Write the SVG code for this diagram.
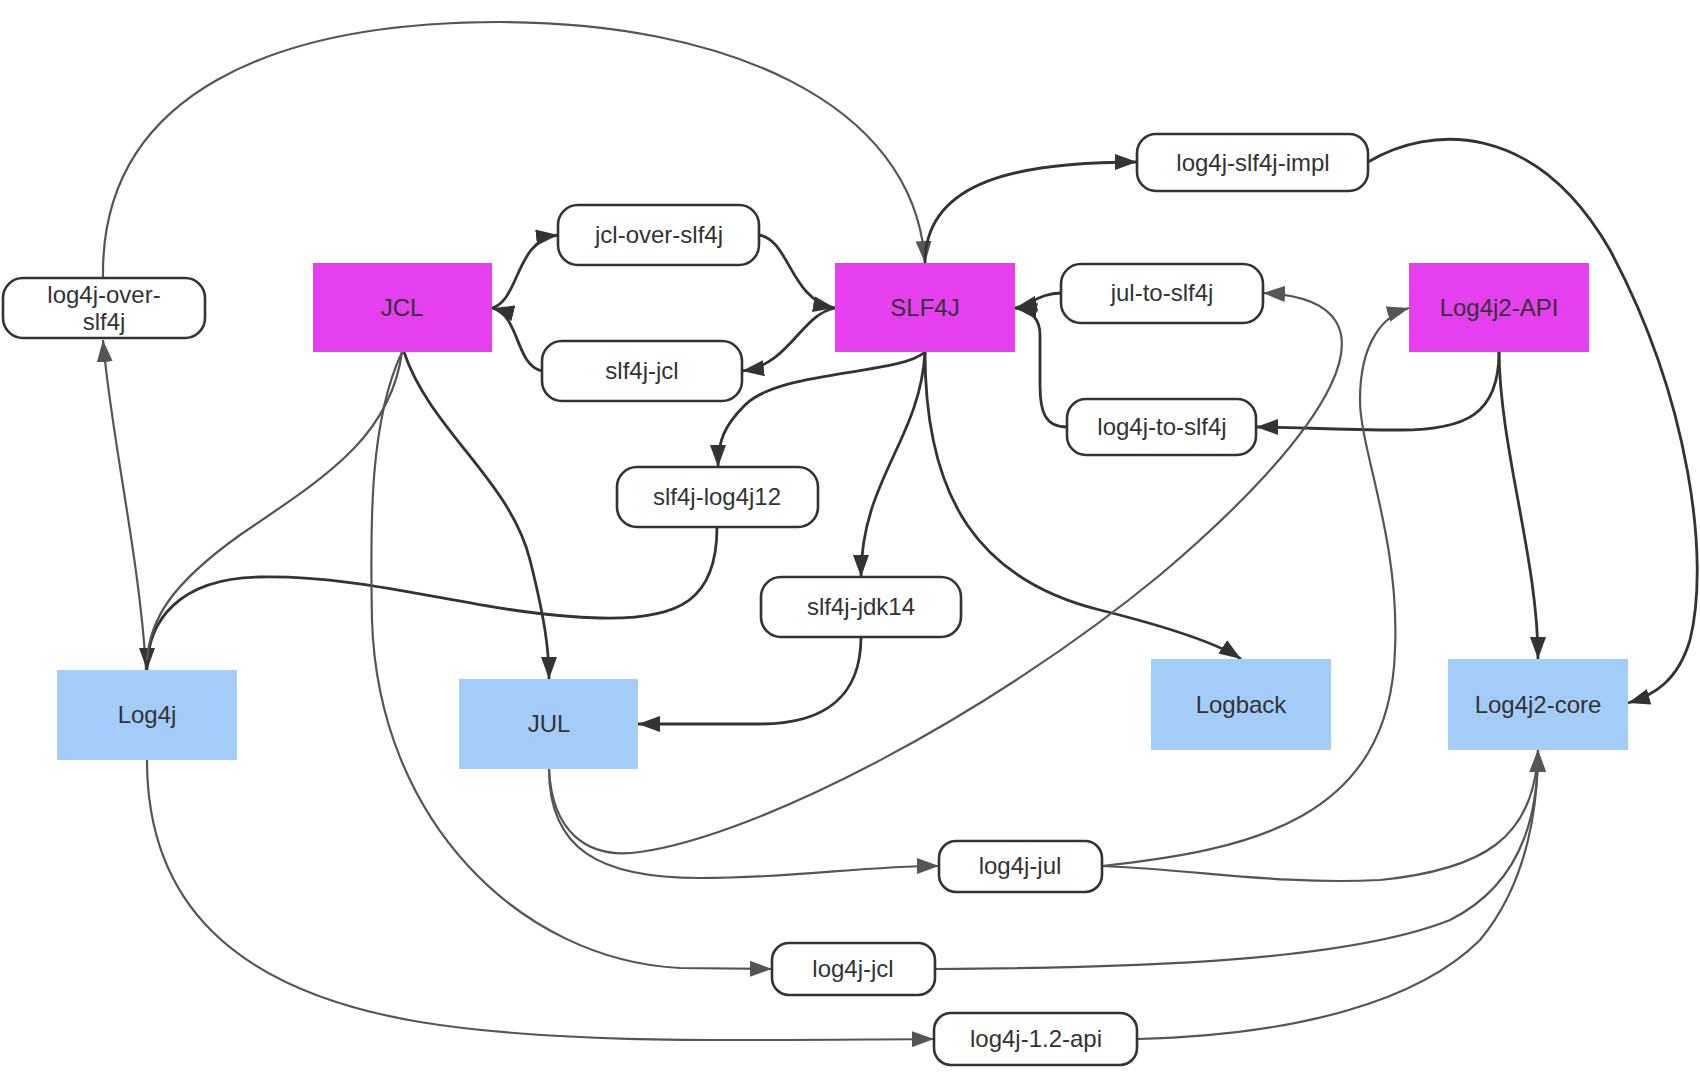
<svg xmlns="http://www.w3.org/2000/svg" width="1700" height="1082" viewBox="0 0 1700 1082">
<style>
.pill{fill:#fff;stroke:#333;stroke-width:2.6}
.mag{fill:#E63FF0}
.blue{fill:#A4CCF8}
.t{font-family:"Liberation Sans","Noto Sans",Arial,sans-serif;font-size:24px;fill:#333;text-anchor:middle}
.dk{fill:none;stroke:#333;stroke-width:2.8}
.gr{fill:none;stroke:#555;stroke-width:2.2}
.dk.a{marker-end:url(#ad)}
.gr.a{marker-end:url(#ag)}
</style>
<defs>
<marker id="ad" markerUnits="userSpaceOnUse" markerWidth="24" markerHeight="16" refX="22" refY="8" orient="auto"><path d="M0,0 L22,8 L0,16 z" fill="#333"/></marker>
<marker id="ag" markerUnits="userSpaceOnUse" markerWidth="24" markerHeight="16" refX="22" refY="8" orient="auto"><path d="M0,0 L22,8 L0,16 z" fill="#555"/></marker>
</defs>
<rect width="1700" height="1082" fill="#fff"/>
<g id="connectors">
<path class="gr a" d="M103,278 C100,90 280,22 500,22 C720,22 915,100 925,263"/>
<path class="gr a" d="M146,670 C140,560 110,430 103,340"/>
<path class="dk a" d="M492,308 C520,300 515,240 558,235"/>
<path class="dk a" d="M759,235 C790,240 790,300 835,308"/>
<path class="dk a" d="M835,308 C800,315 790,365 742,371"/>
<path class="dk a" d="M542,371 C515,365 520,315 492,308"/>
<path class="dk a" d="M925,263 C925,180 1020,162 1137,162"/>
<path class="dk a" d="M1368,162 C1430,125 1535,120 1610,250 C1690,400 1710,560 1690,640 C1678,680 1655,695 1628,703"/>
<path class="dk a" d="M1061,293 C1040,293 1030,305 1015,308"/>
<path class="dk a" d="M1067,427 C1045,427 1040,412 1040,385 L1040,335 C1040,318 1030,310 1015,308"/>
<path class="dk a" d="M1499,352 C1499,415 1465,430 1400,430 C1330,430 1300,427 1256,427"/>
<path class="dk a" d="M1499,352 C1500,450 1538,560 1538,659"/>
<path class="dk a" d="M925,352 C900,375 780,370 745,405 C725,425 718,440 718,467"/>
<path class="dk a" d="M925,352 C920,440 861,480 861,577"/>
<path class="dk a" d="M925,352 C925,500 980,580 1100,610 C1180,630 1220,645 1241,659"/>
<path class="dk a" d="M717,527 C717,600 680,620 600,618 C480,615 380,575 260,577 C180,578 147,620 147,670"/>
<path class="dk a" d="M861,637 C861,700 820,724 760,724 L638,724"/>
<path class="dk a" d="M404,352 C430,430 510,480 530,560 C545,620 549,650 549,679"/>
<path class="gr" d="M402,352 C390,440 320,480 240,535 C170,585 150,620 147,660"/>
<path class="gr a" d="M402,352 C370,420 370,520 372,620 C378,820 520,960 680,968 L772,969"/>
<path class="gr a" d="M549,769 C549,850 600,878 700,878 C800,878 860,866 939,866"/>
<path class="gr a" d="M549,769 C552,830 585,860 640,852 C760,835 990,715 1160,575 C1320,440 1420,300 1263,293"/>
<path class="gr a" d="M1102,866 C1250,850 1390,820 1395,650 C1400,540 1360,450 1360,400 C1360,340 1385,315 1409,308"/>
<path class="gr a" d="M1102,866 C1200,870 1280,885 1380,880 C1480,870 1535,840 1538,750"/>
<path class="gr a" d="M935,969 C1150,968 1350,960 1450,920 C1530,880 1538,800 1538,750"/>
<path class="gr a" d="M1137,1039 C1300,1035 1420,1000 1480,940 C1530,880 1538,800 1538,750"/>
<path class="gr a" d="M147,760 C147,900 230,990 420,1022 C560,1045 750,1040 934,1039"/>
</g>
<g id="log4j-over-slf4j"><rect class="pill" x="3" y="278" width="202" height="60" rx="20"/><text class="t" x="104" y="303">log4j-over-</text><text class="t" x="104" y="330">slf4j</text></g>
<g id="JCL"><rect class="mag" x="313" y="263" width="179" height="89"/><text class="t" x="402" y="316">JCL</text></g>
<g id="jcl-over-slf4j"><rect class="pill" x="558" y="205" width="201" height="60" rx="20"/><text class="t" x="659" y="243">jcl-over-slf4j</text></g>
<g id="slf4j-jcl"><rect class="pill" x="542" y="341" width="200" height="60" rx="20"/><text class="t" x="642" y="379">slf4j-jcl</text></g>
<g id="SLF4J"><rect class="mag" x="835" y="263" width="180" height="89"/><text class="t" x="925" y="316">SLF4J</text></g>
<g id="log4j-slf4j-impl"><rect class="pill" x="1137" y="134" width="231" height="57" rx="19"/><text class="t" x="1253" y="171">log4j-slf4j-impl</text></g>
<g id="jul-to-slf4j"><rect class="pill" x="1061" y="264" width="202" height="59" rx="20"/><text class="t" x="1162" y="301">jul-to-slf4j</text></g>
<g id="Log4j2-API"><rect class="mag" x="1409" y="263" width="180" height="89"/><text class="t" x="1499" y="316">Log4j2-API</text></g>
<g id="log4j-to-slf4j"><rect class="pill" x="1067" y="399" width="189" height="56" rx="19"/><text class="t" x="1162" y="435">log4j-to-slf4j</text></g>
<g id="slf4j-log4j12"><rect class="pill" x="617" y="467" width="201" height="60" rx="20"/><text class="t" x="717" y="505">slf4j-log4j12</text></g>
<g id="slf4j-jdk14"><rect class="pill" x="761" y="577" width="200" height="60" rx="20"/><text class="t" x="861" y="615">slf4j-jdk14</text></g>
<g id="Log4j"><rect class="blue" x="57" y="670" width="180" height="90"/><text class="t" x="147" y="723">Log4j</text></g>
<g id="JUL"><rect class="blue" x="459" y="679" width="179" height="90"/><text class="t" x="549" y="732">JUL</text></g>
<g id="Logback"><rect class="blue" x="1151" y="659" width="180" height="91"/><text class="t" x="1241" y="713">Logback</text></g>
<g id="Log4j2-core"><rect class="blue" x="1448" y="659" width="180" height="91"/><text class="t" x="1538" y="713">Log4j2-core</text></g>
<g id="log4j-jul"><rect class="pill" x="939" y="841" width="163" height="51" rx="17"/><text class="t" x="1020" y="874">log4j-jul</text></g>
<g id="log4j-jcl"><rect class="pill" x="772" y="943" width="163" height="52" rx="17"/><text class="t" x="853" y="977">log4j-jcl</text></g>
<g id="log4j-1.2-api"><rect class="pill" x="934" y="1013" width="203" height="52" rx="17"/><text class="t" x="1036" y="1047">log4j-1.2-api</text></g>
</svg>
